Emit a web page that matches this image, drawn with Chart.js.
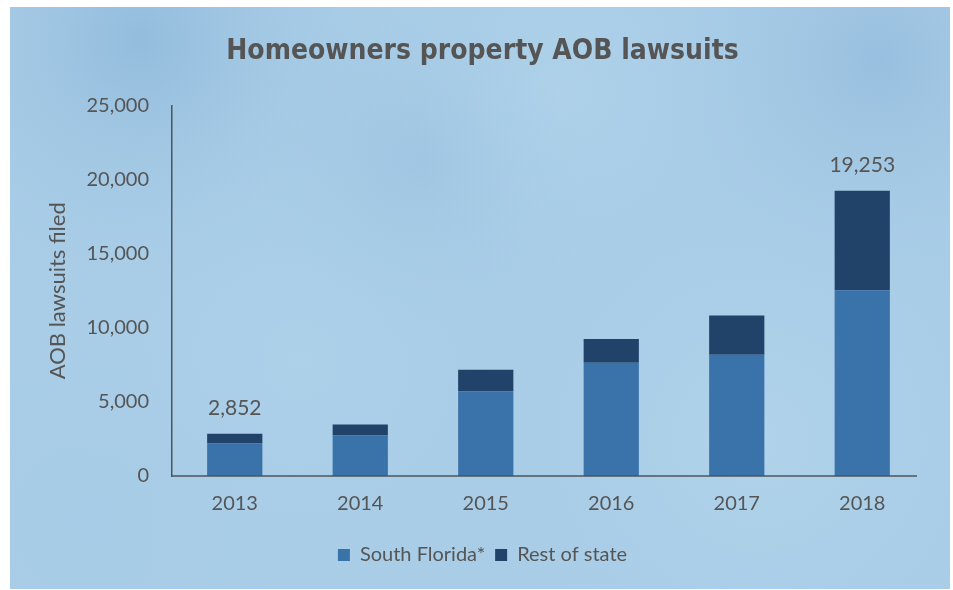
<!DOCTYPE html>
<html>
<head>
<meta charset="utf-8">
<script src="https://cdn.jsdelivr.net/npm/chart.js@4"></script>
<style>
  html, body { margin: 0; padding: 0; background: #fff; }
  #wrap { width: 953px; height: 590px; }
</style>
</head>
<body>
<div id="wrap"><canvas id="aobChart" width="953" height="590"></canvas></div>
<script>
const years = ['2013', '2014', '2015', '2016', '2017', '2018'];
const southFlorida = [2200, 2730, 5720, 7650, 8180, 12530];
const restOfState = [652, 750, 1450, 1590, 2660, 6723];
const totalLabels = ['2,852', '', '', '', '', '19,253'];
const yTicks = [0, 5000, 10000, 15000, 20000, 25000];

const textColor = '#555555';
const bodyFont = 'Lato, "Open Sans", sans-serif';

// watercolor-ish backdrop inside the white frame
const backdrop = {
  id: 'backdrop',
  beforeDraw(chart) {
    const c = chart.ctx;
    c.save();
    c.fillStyle = '#fff';
    c.fillRect(0, 0, chart.width, chart.height);
    const x0 = 10, y0 = 7, w = 940, h = 582;
    c.beginPath();
    c.rect(x0, y0, w, h);
    c.clip();
    c.fillStyle = '#a9cde7';
    c.fillRect(x0, y0, w, h);
    const blobs = [
      [140, 40, 280, 'rgba(120,168,208,0.45)'],
      [880, 60, 260, 'rgba(125,170,210,0.4)'],
      [420, 160, 200, 'rgba(130,175,212,0.3)'],
      [560, 90, 220, 'rgba(185,218,238,0.35)'],
      [300, 360, 280, 'rgba(180,215,236,0.35)'],
      [760, 440, 300, 'rgba(188,221,240,0.4)'],
      [90, 520, 200, 'rgba(160,200,228,0.3)']
    ];
    blobs.forEach(([bx, by, r, col]) => {
      const g = c.createRadialGradient(bx, by, 0, bx, by, r);
      g.addColorStop(0, col);
      g.addColorStop(1, 'rgba(169,205,231,0)');
      c.fillStyle = g;
      c.fillRect(x0, y0, w, h);
    });
    c.restore();
  },
  afterDatasetsDraw(chart) {
    const c = chart.ctx;
    const ys = chart.scales.y, xs = chart.scales.x;
    c.save();
    c.strokeStyle = '#4d545b';
    c.lineWidth = 1.5;
    c.beginPath();
    c.moveTo(chart.chartArea.left, ys.getPixelForValue(0));
    c.lineTo(917, ys.getPixelForValue(0));
    c.stroke();
    // totals above first and last bar
    c.fillStyle = textColor;
    c.font = '21px ' + bodyFont;
    c.textAlign = 'center';
    c.textBaseline = 'bottom';
    totalLabels.forEach((t, i) => {
      if (!t) return;
      const total = southFlorida[i] + restOfState[i];
      c.fillText(t, xs.getPixelForValue(i), ys.getPixelForValue(total) - 15);
    });
    c.restore();
  }
};

new Chart(document.getElementById('aobChart'), {
  type: 'bar',
  data: {
    labels: years,
    datasets: [
      { label: 'South Florida*', data: southFlorida, backgroundColor: '#3a72aa' },
      { label: 'Rest of state', data: restOfState, backgroundColor: '#224369' }
    ]
  },
  options: {
    responsive: false,
    animation: false,
    layout: { padding: { left: 40, right: 28, top: 8, bottom: 15 } },
    datasets: { bar: { barPercentage: 0.44, categoryPercentage: 1 } },
    plugins: {
      title: {
        display: true,
        text: 'Homeowners property AOB lawsuits',
        color: '#555',
        font: { family: '"Liberation Sans Narrow", "DejaVu Sans Condensed", sans-serif', size: 28, weight: 'bold' },
        padding: { top: 27, bottom: 37 }
      },
      legend: {
        position: 'bottom',
        labels: {
          color: textColor,
          font: { family: bodyFont, size: 20 },
          boxWidth: 12,
          boxHeight: 12,
          padding: 10
        }
      },
      tooltip: { enabled: false }
    },
    scales: {
      x: {
        stacked: true,
        grid: { display: false, drawTicks: false },
        border: { display: false },
        ticks: { color: textColor, font: { family: bodyFont, size: 20 }, padding: 16 },
        afterFit(s) { s.height = 59; }
      },
      y: {
        stacked: true,
        min: 0,
        max: 25000,
        afterBuildTicks(s) { s.ticks = yTicks.map(v => ({ value: v })); },
        grid: { display: false, drawTicks: false },
        border: { display: true, color: '#4d545b', width: 1.5 },
        ticks: {
          color: textColor,
          font: { family: bodyFont, size: 20 },
          padding: 23,
          callback: v => v.toLocaleString('en-US')
        },
        title: {
          display: true,
          text: 'AOB lawsuits filed',
          color: textColor,
          font: { family: bodyFont, size: 22 },
          padding: { top: 5, bottom: 0 }
        },
        afterFit(s) { s.width = 132; }
      }
    }
  },
  plugins: [backdrop]
});
</script>
</body>
</html>
